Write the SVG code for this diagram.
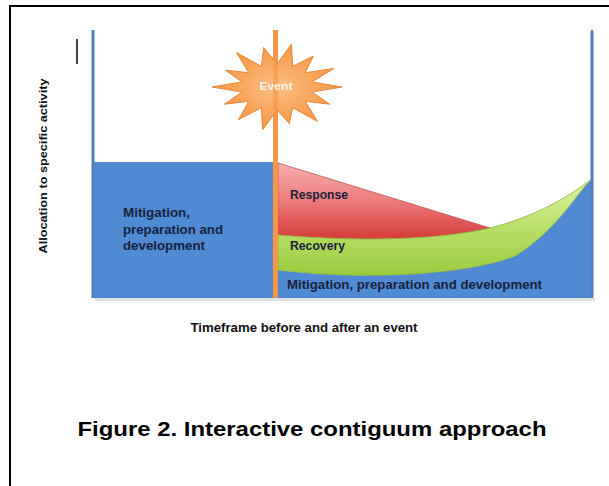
<svg xmlns="http://www.w3.org/2000/svg" width="609" height="486" viewBox="0 0 609 486">
<style>
.lbl{font-family:"Liberation Sans",Arial,sans-serif;font-weight:bold;fill:#17223B;}
.ax{font-family:"Liberation Sans",Arial,sans-serif;font-weight:bold;fill:#111;}
.cap{font-family:"Liberation Sans",Arial,sans-serif;font-weight:bold;fill:#000;}
.blueline{stroke:#4F81BD;stroke-width:3;fill:none;}
</style>
<defs>
<linearGradient id="gRed" x1="0" y1="0" x2="0" y2="1">
<stop offset="0" stop-color="#F7AFAF"/>
<stop offset="0.5" stop-color="#EC7C7A"/>
<stop offset="1" stop-color="#D63B3A"/>
</linearGradient>
<linearGradient id="gGreen" x1="0" y1="0" x2="0" y2="1">
<stop offset="0" stop-color="#DDF3A4"/>
<stop offset="0.5" stop-color="#B9E06A"/>
<stop offset="1" stop-color="#9CCB3E"/>
</linearGradient>
<radialGradient id="gStar" cx="0.5" cy="0.5" r="0.5">
<stop offset="0" stop-color="#FBC089"/>
<stop offset="1" stop-color="#F7953F"/>
</radialGradient>
</defs>
<rect x="10" y="6" width="700" height="600" fill="#fff" stroke="#000" stroke-width="2"/>
<line x1="77" y1="39" x2="77" y2="64" stroke="#000" stroke-width="1.5"/>
<g id="axis-y-label">
<text class="ax" x="43" y="166" font-size="11" text-anchor="middle" textLength="175" lengthAdjust="spacingAndGlyphs" transform="rotate(-90 43 166)" dy="4">Allocation to specific activity</text>
</g>
<g id="shadow">
<rect x="95" y="298" width="500" height="3" fill="#000" opacity="0.12"/>
</g>
<g id="pre-event-mitigation">
<rect x="93" y="162" width="185" height="136" fill="#508AD3"/>
<text class="lbl" font-size="12.5" x="123" y="217" textLength="67" lengthAdjust="spacingAndGlyphs">Mitigation,</text>
<text class="lbl" font-size="12.5" x="123" y="234" textLength="100" lengthAdjust="spacingAndGlyphs">preparation and</text>
<text class="lbl" font-size="12.5" x="123" y="250" textLength="82" lengthAdjust="spacingAndGlyphs">development</text>
</g>
<g id="post-event-mitigation">
<path d="M278,270 C380,282 475,272 515,256 C560,228 578,190 593,178 L593,298 L278,298 Z" fill="#508AD3"/>
<text class="lbl" font-size="12.5" x="287" y="289" textLength="255" lengthAdjust="spacingAndGlyphs">Mitigation, preparation and development</text>
</g>
<g id="response">
<path d="M278,163 L490,228 C440,240 360,242 278,235 Z" fill="url(#gRed)" stroke="#C0504D" stroke-width="0.8"/>
<text class="lbl" font-size="12.5" x="290" y="199" textLength="58" lengthAdjust="spacingAndGlyphs">Response</text>
</g>
<g id="recovery">
<path d="M278,235 C360,242 440,240 490,228 C530,218 565,200 593,178 C578,190 560,228 515,256 C475,272 380,282 278,270 Z" fill="url(#gGreen)" stroke="#8DB83A" stroke-width="0.8"/>
<text class="lbl" font-size="12.5" x="290" y="250" textLength="55" lengthAdjust="spacingAndGlyphs">Recovery</text>
</g>
<g id="axes">
<line class="blueline" x1="93" y1="30" x2="93" y2="298"/>
<line class="blueline" x1="592" y1="30" x2="592" y2="298"/>
</g>
<g id="event-line">
<line x1="275.5" y1="30" x2="275.5" y2="298" stroke="#F79646" stroke-width="5"/>
</g>
<g id="event">
<path d="M342,87 L312.1,92.1 L329.7,104.2 L305.2,101.3 L317.5,121.4 L292.6,107.7 L289.3,123.5 L277,110 L262.5,129.9 L261.4,107.7 L238.5,119.7 L248.8,101.3 L224.3,104.2 L241.9,92.1 L212,87 L241.9,81.9 L225.5,70.2 L248.8,72.7 L236.5,52.6 L261.4,66.3 L263.7,47.5 L277,64 L291.5,44.1 L292.6,66.3 L313.4,56 L305.2,72.7 L333.8,68.5 L312.1,81.9 Z" fill="url(#gStar)" stroke="#E8893A" stroke-width="1"/>
<line x1="275.5" y1="64" x2="275.5" y2="110" stroke="#F79646" stroke-width="5" opacity="0.6"/>
<text x="276" y="90" font-family="Liberation Sans,Arial,sans-serif" font-weight="bold" font-size="11" fill="#FFF4E8" text-anchor="middle" textLength="33" lengthAdjust="spacingAndGlyphs">Event</text>
</g>
<g id="axis-x-label">
<text class="ax" font-size="12" x="304" y="332" text-anchor="middle" textLength="227" lengthAdjust="spacingAndGlyphs">Timeframe before and after an event</text>
</g>
<g id="caption">
<text class="cap" font-size="20" x="312" y="436" text-anchor="middle" textLength="469" lengthAdjust="spacingAndGlyphs">Figure 2. Interactive contiguum approach</text>
</g>
</svg>
